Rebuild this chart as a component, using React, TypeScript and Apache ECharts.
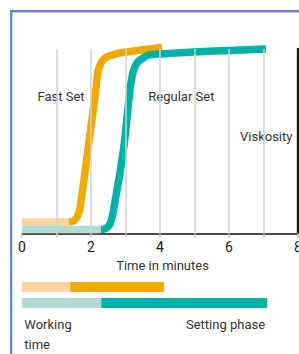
import React, { useEffect, useRef } from "react";
import * as echarts from "echarts";

// ---- data ----
const xTickValues = [0, 2, 4, 6, 8];
const gridMinutes = [1, 2, 3, 4, 5, 6, 7];

const fastWorking: [number, number][] = [[0, 6.2], [1.36, 6.2]];
const fastSetting: [number, number][] = [
  [1.36, 6.2], [1.51, 7.0], [1.61, 9.5], [1.68, 13.8], [1.91, 45.3], [2.14, 77.8],
  [2.2, 87.5], [2.29, 92.4], [2.41, 95.1], [2.61, 96.7], [2.84, 97.8], [4.06, 100.8],
];
const regularWorking: [number, number][] = [[0, 2.2], [2.29, 2.2]];
const regularSetting: [number, number][] = [
  [2.29, 2.2], [2.43, 2.7], [2.55, 5.1], [2.62, 9.5], [2.67, 14.4], [2.94, 45.3],
  [3.13, 77.8], [3.22, 87.5], [3.33, 92.4], [3.51, 95.1], [3.71, 96.9], [7.07, 100],
];

const barRows = ["Fast Set", "Regular Set"];
const workingTime = [1.4, 2.3];
const settingPhase = [2.72, 4.8];

const ORANGE = "#F1AA00";
const ORANGE_LIGHT = "#F9D49C";
const TEAL = "#00B3A7";
const TEAL_LIGHT = "#B1DAD4";
const lightColors = [ORANGE_LIGHT, TEAL_LIGHT];
const darkColors = [ORANGE, TEAL];

const FONT = "Roboto";
const TEXT = "#333333";

export default function App() {
  const ref = useRef<HTMLDivElement>(null);
  useEffect(() => {
    if (!ref.current) return;
    const chart = echarts.init(ref.current, null, { renderer: "svg" });
    const lineSeries = (name: string, data: [number, number][], color: string, z: number) => ({
      name,
      type: "line",
      data,
      xAxisIndex: 0,
      yAxisIndex: 0,
      smooth: 0.35,
      showSymbol: false,
      symbol: "none",
      clip: false,
      z,
      lineStyle: { color, width: 7.5, cap: "butt", join: "round" },
      silent: true,
    });
    chart.setOption({
      animation: false,
      backgroundColor: "#ffffff",
      grid: [
        { left: 22, top: 49, width: 276, height: 184.5, outerBoundsMode: "none", containLabel: false },
        { left: 22, top: 279, width: 276, height: 32, outerBoundsMode: "none", containLabel: false },
      ],
      xAxis: [
        {
          gridIndex: 0,
          type: "value",
          min: 0,
          max: 8,
          interval: 1,
          axisLine: { show: true, lineStyle: { color: "#111111", width: 1.6 } },
          axisTick: { show: true, length: 4, lineStyle: { color: "#c4c4c4", width: 1.5 } },
          axisLabel: {
            margin: 6,
            fontFamily: FONT,
            fontSize: 14,
            color: "#1a1a1a",
            hideOverlap: false,
            formatter: (v: number) => (xTickValues.indexOf(v) >= 0 ? String(v) : ""),
          },
          splitLine: { show: false },
        },
        {
          gridIndex: 1,
          type: "value",
          min: 0,
          max: 8,
          show: false,
        },
      ],
      yAxis: [
        {
          gridIndex: 0,
          type: "value",
          min: 0,
          max: 100,
          position: "right",
          axisLine: { show: true, onZero: false, lineStyle: { color: "#111111", width: 2.3 } },
          axisTick: { show: false },
          axisLabel: { show: false },
          splitLine: { show: false },
        },
        {
          gridIndex: 1,
          type: "category",
          data: barRows,
          inverse: true,
          show: false,
        },
      ],
      series: [
        {
          name: "grid",
          type: "line",
          data: [[0, 0]],
          showSymbol: false,
          symbol: "none",
          lineStyle: { opacity: 0, width: 0 },
          z: 0,
          silent: true,
          markLine: {
            silent: true,
            symbol: ["none", "none"],
            label: { show: false },
            lineStyle: { color: "#d2d2d2", width: 1.5, type: "solid" },
            data: gridMinutes.map((m) => ({ xAxis: m })),
          },
        },
        lineSeries("Fast Set working", fastWorking, ORANGE_LIGHT, 2),
        lineSeries("Regular Set working", regularWorking, TEAL_LIGHT, 2),
        lineSeries("Fast Set", fastSetting, ORANGE, 3),
        lineSeries("Regular Set", regularSetting, TEAL, 3),
        {
          name: "Working time",
          type: "bar",
          xAxisIndex: 1,
          yAxisIndex: 1,
          stack: "t",
          barWidth: 10,
          silent: true,
          data: workingTime.map((v, i) => ({ value: v, itemStyle: { color: lightColors[i] } })),
        },
        {
          name: "Setting phase",
          type: "bar",
          xAxisIndex: 1,
          yAxisIndex: 1,
          stack: "t",
          barWidth: 10,
          silent: true,
          data: settingPhase.map((v, i) => ({ value: v, itemStyle: { color: darkColors[i] } })),
        },
      ],
      graphic: [
        {
          type: "rect",
          shape: { x: 11.2, y: 11.2, width: 400, height: 400 },
          style: { fill: "none", stroke: "#6B87C7", lineWidth: 2.4 },
          silent: true,
          z: 10,
        },
        {
          type: "text",
          x: 37.5,
          y: 96.5,
          style: { text: "Fast Set", fontFamily: FONT, fontSize: 13, fill: TEXT, verticalAlign: "middle", align: "left" },
        },
        {
          type: "text",
          x: 148.3,
          y: 96.5,
          style: { text: "Regular Set", fontFamily: FONT, fontSize: 13, fill: TEXT, verticalAlign: "middle", align: "left" },
        },
        {
          type: "text",
          x: 240,
          y: 136.5,
          style: { text: "Viskosity", fontFamily: FONT, fontSize: 13, fill: TEXT, verticalAlign: "middle", align: "left" },
        },
        {
          type: "text",
          x: 162.5,
          y: 265,
          style: { text: "Time in minutes", fontFamily: FONT, fontSize: 13, fill: TEXT, verticalAlign: "middle", align: "center" },
        },
        {
          type: "text",
          x: 24.3,
          y: 324,
          style: { text: "Working", fontFamily: FONT, fontSize: 13, fill: TEXT, verticalAlign: "middle", align: "left" },
        },
        {
          type: "text",
          x: 24.3,
          y: 344,
          style: { text: "time", fontFamily: FONT, fontSize: 13, fill: TEXT, verticalAlign: "middle", align: "left" },
        },
        {
          type: "text",
          x: 186,
          y: 324,
          style: { text: "Setting phase", fontFamily: FONT, fontSize: 13, fill: TEXT, verticalAlign: "middle", align: "left" },
        },
      ],
    });
    return () => chart.dispose();
  }, []);
  return (
    <div
      ref={ref}
      style={{ position: "fixed", left: 0, top: 0, width: 299, height: 354 }}
    />
  );
}
